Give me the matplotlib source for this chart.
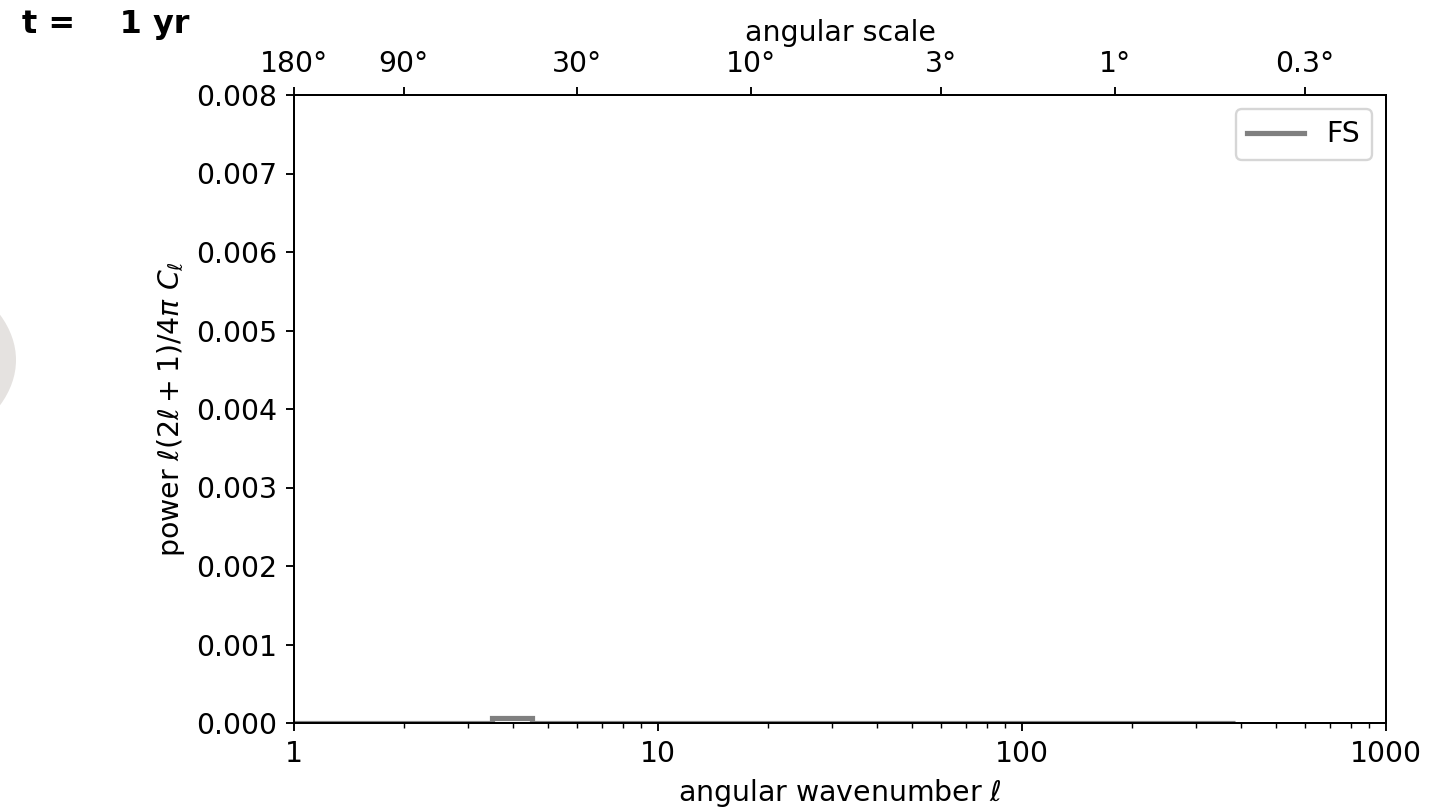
import matplotlib
matplotlib.use("Agg")
import matplotlib.pyplot as plt
from matplotlib.ticker import FixedLocator, FixedFormatter, NullLocator, LogLocator
from matplotlib.patches import Circle

# Angular power spectrum at t = 1 yr, stored as steps over multipole bins
ell_edges = [1.0, 3.5, 4.5, 384.5]
power = [0.0, 0.00006, 0.000003]

x_ticks = [1, 10, 100, 1000]
x_labels = ["1", "10", "100", "1000"]
y_ticks = [0.000, 0.001, 0.002, 0.003, 0.004, 0.005, 0.006, 0.007, 0.008]
angle_deg = [180, 90, 30, 10, 3, 1, 0.3]
angle_labels = ["180°", "90°", "30°", "10°", "3°", "1°", "0.3°"]

DPI = 170
plt.rcParams["font.size"] = 12
fig = plt.figure(figsize=(1433 / DPI, 812 / DPI), dpi=DPI)
fig.patch.set_facecolor("white")

# faint disc peeking in at the left edge
fig.patches.append(Circle((-192 / 1433, 1 - 360 / 812), 208 / 1433,
                          transform=fig.transFigure, facecolor="#e5e2e0",
                          edgecolor="none", zorder=0))

ax = fig.add_axes([294 / 1433, 1 - 723 / 812, (1386 - 294) / 1433, (723 - 95) / 812])
ax.stairs(power, ell_edges, color="gray", lw=2.2, label="FS", baseline=None)

ax.set_xscale("log")
ax.set_xlim(1, 1000)
ax.set_ylim(0, 0.008)
ax.xaxis.set_major_locator(FixedLocator(x_ticks))
ax.xaxis.set_major_formatter(FixedFormatter(x_labels))
ax.xaxis.set_minor_locator(LogLocator(base=10, subs=range(2, 10)))
ax.set_yticks(y_ticks)
ax.set_yticklabels([f"{v:.3f}" for v in y_ticks])
ax.set_xlabel(r"angular wavenumber $\ell$")
ax.set_ylabel(r"power $\ell(2\ell + 1)/4\pi\ C_\ell$")
ax.legend(loc="upper right")

# angular scale on the top axis: theta = 180 deg / ell
top = ax.twiny()
top.set_xscale("log")
top.set_xlim(ax.get_xlim())
top.xaxis.set_major_locator(FixedLocator([180 / a for a in angle_deg]))
top.xaxis.set_major_formatter(FixedFormatter(angle_labels))
top.xaxis.set_minor_locator(NullLocator())
top.set_xlabel("angular scale")

fig.text(22 / 1433, 1 - 24 / 812, "t =    1 yr", fontweight="bold",
         fontsize=13.5, va="center", ha="left")

fig.savefig("out.png", dpi=DPI)
